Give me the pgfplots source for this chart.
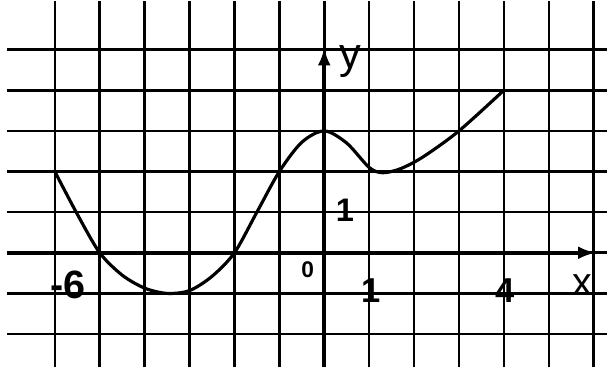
\documentclass[border=0pt]{standalone}
\usepackage{fontspec}
\setmainfont{Liberation Sans}
\usepackage{pgfplots}
\pgfplotsset{compat=1.18}
\usetikzlibrary{arrows.meta}
\begin{document}
\begin{tikzpicture}
\begin{axis}[
  scale only axis,
  width=608pt, height=371pt,
  xmin=-7.07, xmax=6.29,
  ymin=-2.82, ymax=6.19,
  axis line style={draw=none},
  xtick={-6,-5,...,6}, ytick={-2,-1,...,5},
  xticklabels={}, yticklabels={},
  tick style={draw=none},
  grid=major,
  major grid style={black, line width=2.6pt},
  clip=true,
]
\addplot[black, line width=3.2pt, smooth, tension=0.5] coordinates {
(-6,2) (-5.5,0.95) (-5,0) (-4.5,-0.55) (-4,-0.87) (-3.5,-1) (-3,-0.93)
(-2.5,-0.58) (-2,0) (-1.5,1) (-1,2) (-0.5,2.72) (0,3) (0.5,2.7) (1,2.1)
(1.3,1.97) (1.7,2.07) (2.2,2.36) (3,3) (4,4)
};
\draw[black, line width=4pt, -{Latex[length=18pt,width=13pt]}] (axis cs:-7.07,0) -- (axis cs:6.05,0);
\draw[black, line width=4pt, -{Latex[length=18pt,width=13pt]}] (axis cs:0,-2.82) -- (axis cs:0,5.05);
\node[font=\fontsize{40}{40}\selectfont\bfseries] at (axis cs:-5.71,-0.8) {-6};
\node[font=\fontsize{23}{23}\selectfont\bfseries] at (axis cs:-0.37,-0.41) {0};
\node[font=\fontsize{35}{35}\selectfont\bfseries] at (axis cs:1.05,-0.92) {1};
\node[font=\fontsize{35}{35}\selectfont\bfseries] at (axis cs:4.02,-0.92) {4};
\node[font=\fontsize{40}{40}\selectfont] at (axis cs:5.74,-0.8) {x};
\node[font=\fontsize{33}{33}\selectfont\bfseries] at (axis cs:0.46,1.04) {1};
\node[font=\fontsize{44}{44}\selectfont] at (axis cs:0.58,4.7) {y};
\end{axis}
\end{tikzpicture}
\end{document}
